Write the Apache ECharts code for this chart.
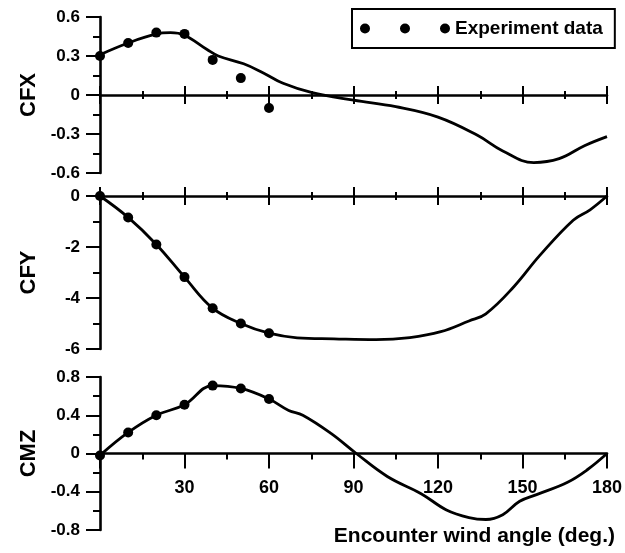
<!DOCTYPE html>
<html>
<head>
<meta charset="utf-8">
<script src="https://cdn.jsdelivr.net/npm/echarts@6/dist/echarts.min.js"></script>
<style>
  html, body { margin: 0; padding: 0; background: #fff; }
  #chart { width: 625px; height: 553px; }
</style>
</head>
<body>
<div id="chart"></div>
<script>
// Wind-load coefficients versus encounter wind angle

// Experimental points (same angles for all three coefficients)
const expAngle = [0, 10, 20, 30, 40, 50, 60];
const cfxExp = [0.30, 0.40, 0.48, 0.47, 0.27, 0.13, -0.10];
const cfyExp = [0, -0.84, -1.90, -3.18, -4.40, -5.00, -5.38];
const cmzExp = [-0.02, 0.22, 0.40, 0.51, 0.71, 0.68, 0.57];

// Computed curves
const cfxAngle = [0, 10, 20, 25, 30, 38, 42, 51, 58, 65, 75, 90, 105, 120, 134, 143, 154, 163, 172, 180];
const cfxCurve = [0.31, 0.40, 0.47, 0.48, 0.46, 0.35, 0.30, 0.24, 0.17, 0.09, 0.02, -0.04, -0.09, -0.17, -0.31, -0.43, -0.52, -0.49, -0.39, -0.32];

const cfyAngle = [0, 10, 20, 30, 40, 50, 60, 70, 83, 98, 110, 121, 131, 137, 147, 156, 168, 174, 180];
const cfyCurve = [0, -0.84, -1.90, -3.18, -4.40, -5.00, -5.38, -5.56, -5.60, -5.63, -5.55, -5.32, -4.90, -4.62, -3.55, -2.35, -0.95, -0.54, 0];

const cmzAngle = [0, 10, 20, 30, 40, 50, 60, 67, 72, 82, 91, 102, 114, 123, 131, 137, 143, 149, 155, 166, 173, 180];
const cmzCurve = [-0.02, 0.22, 0.40, 0.51, 0.71, 0.68, 0.57, 0.45, 0.40, 0.21, 0.0, -0.24, -0.42, -0.59, -0.67, -0.69, -0.64, -0.50, -0.43, -0.30, -0.17, 0];

// Axis ticks
const angleTicks = { min: 0, max: 180, interval: 30 };
const cfxTicks = { min: -0.6, max: 0.6, interval: 0.3 };
const cfyTicks = { min: -6, max: 0, interval: 2 };
const cmzTicks = { min: -0.8, max: 0.8, interval: 0.4 };

const FONT = '"Liberation Sans", Arial, Helvetica, sans-serif';
const INK = '#000';

const pairs = (xs, ys) => xs.map((x, i) => [x, ys[i]]);
const fmt1 = v => (Math.abs(v) < 1e-9 ? '0' : v.toFixed(1));
const fmt0 = v => (Math.abs(v) < 1e-9 ? '0' : String(Math.round(v)));

function angleAxis(grid, extra) {
  return Object.assign({
    type: 'value', gridIndex: grid,
    min: angleTicks.min, max: angleTicks.max, interval: angleTicks.interval,
    splitLine: { show: false },
    axisLabel: { show: false },
    axisLine: { show: true, onZero: true, lineStyle: { color: INK, width: 2.6 } },
    axisTick: { show: true, length: 9, lineStyle: { color: INK, width: 2 } },
    minorTick: { show: true, splitNumber: 2, length: 4, lineStyle: { color: INK, width: 2 } },
    minorSplitLine: { show: false }
  }, extra);
}

function coefAxis(grid, name, ticks, formatter) {
  return {
    type: 'value', gridIndex: grid, position: 'left',
    min: ticks.min, max: ticks.max, interval: ticks.interval,
    name: name, nameLocation: 'middle', nameGap: 60, nameRotate: 90,
    nameTextStyle: { fontFamily: FONT, fontWeight: 'bold', fontSize: 22, color: INK },
    axisLine: { show: true, onZero: false, lineStyle: { color: INK, width: 2.6 } },
    axisTick: { show: true, length: 14, lineStyle: { color: INK, width: 2 } },
    minorTick: { show: true, splitNumber: 2, length: 7, lineStyle: { color: INK, width: 2 } },
    minorSplitLine: { show: false },
    splitLine: { show: false },
    axisLabel: { fontFamily: FONT, fontWeight: 'bold', fontSize: 17, color: INK, margin: 20, formatter: formatter }
  };
}

function curve(xi, yi, xs, ys) {
  return {
    type: 'line', xAxisIndex: xi, yAxisIndex: yi, data: pairs(xs, ys),
    smooth: 0.4, symbol: 'none', showSymbol: false, silent: true,
    lineStyle: { color: INK, width: 2.8, opacity: 1 }, z: 2
  };
}

function points(xi, yi, ys) {
  return {
    type: 'scatter', name: 'Experiment data', xAxisIndex: xi, yAxisIndex: yi,
    data: pairs(expAngle, ys), symbol: 'circle', symbolSize: 10,
    itemStyle: { color: INK, opacity: 1 }, z: 3
  };
}

const threeDots = 'path://M0,5a5,5 0 1,0 10,0a5,5 0 1,0 -10,0zM40,5a5,5 0 1,0 10,0a5,5 0 1,0 -10,0zM80,5a5,5 0 1,0 10,0a5,5 0 1,0 -10,0z';

const chart = echarts.init(document.getElementById('chart'), null, { renderer: 'canvas' });

chart.setOption({
  animation: false,
  backgroundColor: '#fff',
  textStyle: { fontFamily: FONT },
  grid: [
    { left: 100, top: 17, width: 507, height: 156, outerBoundsMode: 'none' },
    { left: 100, top: 196, width: 507, height: 153, outerBoundsMode: 'none' },
    { left: 100, top: 377, width: 507, height: 153, outerBoundsMode: 'none' }
  ],
  legend: {
    data: [{ name: 'Experiment data', icon: threeDots, itemStyle: { color: INK, opacity: 1 } }],
    left: 352, top: 9,
    itemWidth: 90, itemHeight: 10,
    padding: [10, 12, 10, 8],
    borderColor: INK, borderWidth: 2, borderRadius: 0,
    backgroundColor: '#fff',
    selectedMode: false,
    textStyle: { fontFamily: FONT, fontWeight: 'bold', fontSize: 19, color: INK }
  },
  xAxis: [
    // CFX panel: axis on the zero line, ticks on both sides
    angleAxis(0, {}),
    angleAxis(0, { position: 'bottom', offset: -78, axisLine: { show: false, onZero: false },
      axisTick: { show: true, inside: true, length: 9, lineStyle: { color: INK, width: 2 } } }),
    // CFY panel: zero line at the top edge, ticks on both sides
    angleAxis(1, { position: 'top', axisLine: { show: true, onZero: false, lineStyle: { color: INK, width: 2.6 } } }),
    angleAxis(1, { position: 'top', axisLine: { show: false, onZero: false },
      axisTick: { show: true, inside: true, length: 9, lineStyle: { color: INK, width: 2 } } }),
    // CMZ panel: angle axis on the zero line
    angleAxis(2, {
      axisTick: { show: true, length: 15, lineStyle: { color: INK, width: 2 } },
      minorTick: { show: true, splitNumber: 2, length: 6, lineStyle: { color: INK, width: 2 } }
    }),
    // Angle labels under the CMZ zero line (0 sits 76.5 px above the grid bottom)
    {
      type: 'value', gridIndex: 2, position: 'bottom', offset: -76.5,
      min: angleTicks.min, max: angleTicks.max, interval: angleTicks.interval,
      axisLine: { show: false, onZero: false }, axisTick: { show: false },
      splitLine: { show: false },
      axisLabel: { show: true, margin: 26, fontFamily: FONT, fontWeight: 'bold', fontSize: 18, color: INK,
        showMinLabel: true, showMaxLabel: true,
        formatter: v => (v === 0 ? '' : String(v)) }
    },
    // Axis title below the bottom panel
    {
      type: 'value', gridIndex: 2, position: 'bottom', offset: 6,
      min: angleTicks.min, max: angleTicks.max,
      axisLine: { show: false, onZero: false }, axisTick: { show: false },
      axisLabel: { show: false }, splitLine: { show: false },
      name: 'Encounter wind angle (deg.)', nameLocation: 'end', nameGap: 8,
      nameTextStyle: { align: 'right', verticalAlign: 'middle', fontFamily: FONT, fontWeight: 'bold', fontSize: 21, color: INK }
    }
  ],
  yAxis: [
    coefAxis(0, 'CFX', cfxTicks, fmt1),
    coefAxis(1, 'CFY', cfyTicks, fmt0),
    coefAxis(2, 'CMZ', cmzTicks, fmt1)
  ],
  series: [
    curve(0, 0, cfxAngle, cfxCurve),
    points(0, 0, cfxExp),
    curve(2, 1, cfyAngle, cfyCurve),
    points(2, 1, cfyExp),
    curve(4, 2, cmzAngle, cmzCurve),
    points(4, 2, cmzExp)
  ]
});
</script>
</body>
</html>
